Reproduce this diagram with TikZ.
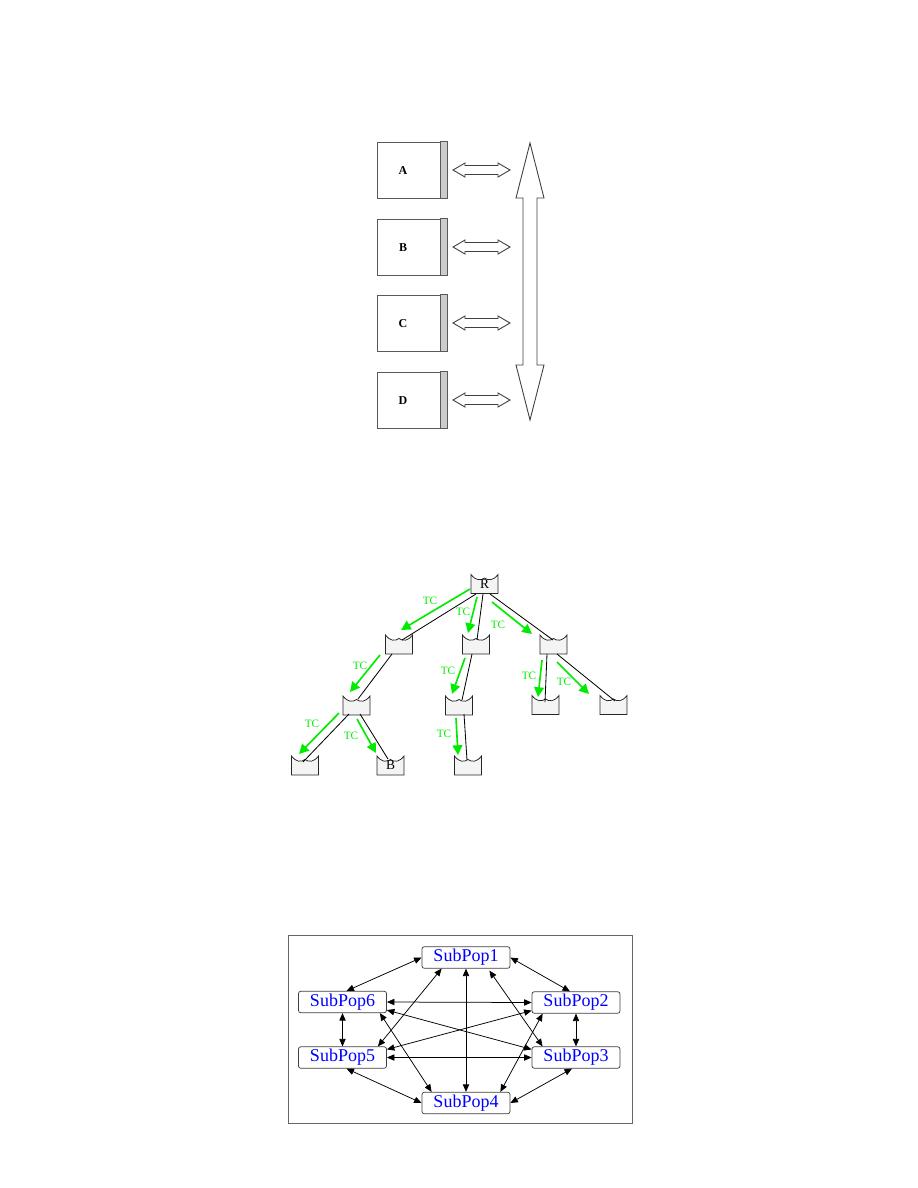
\documentclass[tikz,border=0pt]{standalone}
\usepackage{fontspec}
\setmainfont{Liberation Serif}
\usetikzlibrary{arrows.meta,calc}
\definecolor{tcgreen}{RGB}{0,235,0}
\definecolor{popblue}{RGB}{0,0,255}
\definecolor{tnfill}{RGB}{244,244,244}
\newcommand\hdarrow[1]{%
  \draw[darrow] (453,#1) -- (465,#1-7) -- (465,#1-4.5) -- (498,#1-4.5) -- (498,#1-7) -- (510,#1)
     -- (498,#1+7) -- (498,#1+4.5) -- (465,#1+4.5) -- (465,#1+7) -- cycle;}
\newcommand\tnode[4]{%
  \draw[tnshape] ($(#2,#3)+(-13.5,-9.5)$) .. controls ($(#2,#3)+(-9,-3.5)$) and ($(#2,#3)+(-4,-3)$) .. ($(#2,#3)+(0,-6)$)
     .. controls ($(#2,#3)+(4,-3)$) and ($(#2,#3)+(9,-3.5)$) .. ($(#2,#3)+(13.5,-9.5)$)
     -- ($(#2,#3)+(13.5,9.5)$) -- ($(#2,#3)+(-13.5,9.5)$) -- cycle;
  \node[tn] (#1) at (#2,#3) {\raisebox{-2.2pt}{#4}};}
\begin{document}
\begin{tikzpicture}[x=0.666667pt,y=-0.666667pt,
  abox/.style={draw=black!65,line width=0.6pt,fill=white,minimum width=42pt,minimum height=37.33pt,inner sep=0pt},
  strip/.style={draw=black!65,line width=0.5pt,fill=black!20},
  alab/.style={font=\fontsize{8}{9}\selectfont\bfseries,inner sep=0pt},
  darrow/.style={draw=black!75,line width=0.6pt,fill=white},
  tnshape/.style={draw=black!85,line width=0.5pt,fill=tnfill},
  tn/.style={minimum width=18pt,minimum height=12.67pt,inner sep=0pt,font=\fontsize{9}{10}\selectfont},
  tedge/.style={draw=black,line width=0.55pt},
  tc/.style={draw=tcgreen,line width=1.1pt,-{Triangle[length=6.5pt,width=6.5pt]}},
  tcl/.style={text=tcgreen,font=\fontsize{7.5}{8}\selectfont,inner sep=0pt},
  pop/.style={draw=black!75,line width=0.5pt,rounded corners=1.5pt,fill=white,minimum width=58.67pt,minimum height=14.3pt,inner sep=0pt,text=popblue,font=\fontsize{12}{14}\selectfont},
  pa/.style={line width=0.5pt,{Triangle[length=5pt,width=4.2pt]}-{Triangle[length=5pt,width=4.2pt]}}
]
\useasboundingbox (0,0) rectangle (918,1188);

% ---------- top section ----------
\foreach \n/\y in {A/170,B/247,C/323,D/400}{
  \node[abox] (\n) at (408.5,\y) {};
  \draw[strip] (\n.north east) rectangle ($(\n.south east)+(7,0)$);
  \node[alab] (\n lab) at (403,\y+1) {\n};
  \hdarrow{\y}
}
\draw[darrow] (530,143) -- (544,198) -- (537,198) -- (537,365) -- (544,365) -- (530,420)
  -- (516,365) -- (523,365) -- (523,198) -- (516,198) -- cycle;

% ---------- tree ----------
\tnode{R}{484.5}{584}{R}
\tnode{a1}{399}{644.5}{}
\tnode{b1}{476}{644.5}{}
\tnode{c1}{553.5}{644.5}{}
\tnode{a2}{356.5}{705.5}{}
\tnode{b2}{459}{705.5}{}
\tnode{c2}{545.5}{705}{}
\tnode{d2}{613.5}{705}{}
\tnode{a3}{305}{765.5}{}
\tnode{b3}{390.5}{765.5}{B}
\tnode{c3}{468}{765.5}{}

% black tree edges
\draw[tedge] ($(R)+(-8.5,10)$) -- ($(a1)+(3,-4.5)$);
\draw[tedge] ($(R)+(-1.5,10)$) -- ($(b1)+(1,-4.5)$);
\draw[tedge] ($(R)+(5.5,10)$) -- ($(c1)+(-0.5,-4.5)$);
\draw[tedge] ($(a1)+(-7,9.5)$) -- ($(a2)+(1.5,-6.5)$);
\draw[tedge] ($(b1)+(-4,9.5)$) -- ($(b2)+(3,-5.5)$);
\draw[tedge] ($(c1)+(-6.5,9.5)$) -- ($(c2)+(-0.5,-3)$);
\draw[tedge] ($(c1)+(3.5,9.5)$) -- ($(d2)+(1.5,-4)$);
\draw[tedge] ($(a2)+(-7.5,8.5)$) -- ($(a3)+(-2,-3.5)$);
\draw[tedge] ($(a2)+(3.5,8.5)$) -- ($(b3)+(-2.5,-6.5)$);
\draw[tedge] ($(b2)+(5,8.5)$) -- ($(c3)+(-1,-5.5)$);

% green TC arrows
\draw[tc] ($(R)+(-14.5,5)$) -- ($(a1)+(2,-14.5)$);
\draw[tc] ($(R)+(-7.5,13)$) -- ($(b1)+(-8,-11.5)$);
\draw[tc] ($(R)+(7.5,18)$) -- ($(c1)+(-21.5,-10.5)$);
\draw[tc] ($(a1)+(-19,10.5)$) -- ($(a2)+(-6.5,-13.5)$);
\draw[tc] ($(b1)+(-11,13.5)$) -- ($(b2)+(-7,-11.5)$);
\draw[tc] ($(c1)+(-11.5,15.5)$) -- ($(c2)+(-7.5,-8)$);
\draw[tc] ($(c1)+(3.5,17.5)$) -- ($(d2)+(-24.5,-11)$);
\draw[tc] ($(a2)+(-17.5,7.5)$) -- ($(a3)+(-6,-11.5)$);
\draw[tc] ($(a2)+(0.5,13.5)$) -- ($(b3)+(-14.5,-12.5)$);
\draw[tc] ($(b2)+(-3,12.5)$) -- ($(c3)+(-10,-10.5)$);

% TC labels
\node[tcl] (t1) at (430,601) {TC};
\node[tcl] (t2) at (463,612) {TC};
\node[tcl] (t3) at (498,625) {TC};
\node[tcl] (t4) at (360,666) {TC};
\node[tcl] (t5) at (448,671) {TC};
\node[tcl] (t6) at (529,676) {TC};
\node[tcl] (t7) at (564,682) {TC};
\node[tcl] (t8) at (312,724) {TC};
\node[tcl] (t9) at (351,736) {TC};
\node[tcl] (t10) at (444,734) {TC};

% ---------- SubPop section ----------
\node[draw=black!60,line width=0.55pt,minimum width=229.33pt,minimum height=125.33pt,inner sep=0pt] (frame) at (460,1029) {};
\node[pop] (s1) at (466,957.5) {SubPop1};
\node[pop] (s6) at (342.5,1002) {SubPop6};
\node[pop] (s2) at (576,1002.5) {SubPop2};
\node[pop] (s5) at (342.5,1057.5) {SubPop5};
\node[pop] (s3) at (576,1057.5) {SubPop3};
\node[pop] (s4) at (466,1103) {SubPop4};

\draw[pa] (s1.west) -- ($(s6.north)+(4,0)$);
\draw[pa] (s1.east) -- ($(s2.north)+(-6,0)$);
\draw[pa] (s1.south) -- (s4.north);
\draw[pa] ($(s1.south west)+(20,0)$) -- ($(s5.north east)+(-9,0)$);
\draw[pa] ($(s1.south east)+(-21,2)$) -- ($(s3.north west)+(11,0)$);
\draw[pa] (s6.east) -- (s2.west);
\draw[pa] (s6.south) -- (s5.north);
\draw[pa] ($(s6.south east)+(-7,0)$) -- ($(s4.north west)+(10,0)$);
\draw[pa] ($(s6.south east)+(0,-3)$) -- ($(s3.north west)+(0,3)$);
\draw[pa] ($(s2.south west)+(0,-3)$) -- ($(s5.north east)+(0,3)$);
\draw[pa] (s2.south) -- (s3.north);
\draw[pa] ($(s2.south west)+(11,0)$) -- ($(s4.north east)+(-10,0)$);
\draw[pa] (s5.east) -- (s3.west);
\draw[pa] ($(s5.south)+(4,0)$) -- (s4.west);
\draw[pa] ($(s3.south)+(-4,0)$) -- (s4.east);
\end{tikzpicture}
\end{document}
